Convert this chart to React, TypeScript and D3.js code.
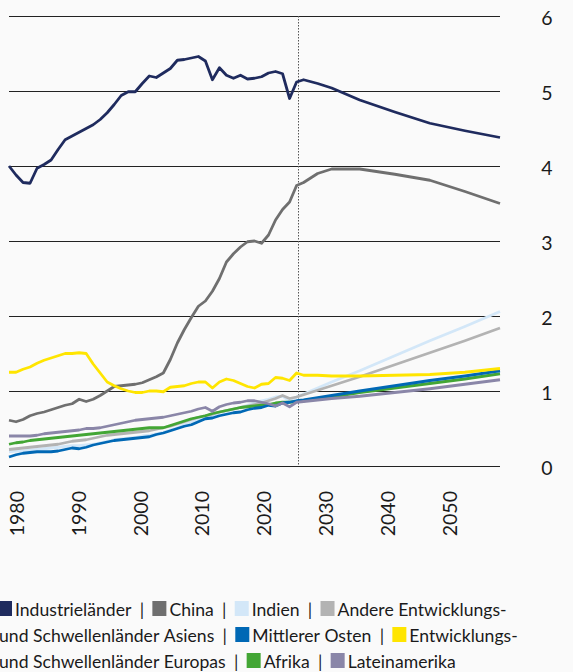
import React, { useRef, useEffect } from 'react';
import * as d3 from 'd3';

// years: history is annual, projections at a few anchor years
const histYears = d3.range(1980, 2022);
const projYears = [2022, 2024, 2026, 2030, 2035, 2040, 2045, 2050];
const tickYears = [1980, 1990, 2000, 2010, 2020, 2030, 2040, 2050];
const yTicks = [0, 1, 2, 3, 4, 5, 6];
const forecastStart = 2021;

const seriesNames = [
  'Industrieländer',
  'China',
  'Indien',
  'Andere Entwicklungs- und Schwellenländer Asiens',
  'Mittlerer Osten',
  'Entwicklungs- und Schwellenländer Europas',
  'Afrika',
  'Lateinamerika',
];
const seriesColors = ['#1f2b5e', '#6f6f6f', '#d3e7f8', '#b3b3b3', '#0068b5', '#ffe500', '#43a635', '#8a86a8'];

const industrieHist = [4.0, 3.88, 3.78, 3.77, 3.97, 4.02, 4.08, 4.22, 4.35, 4.4, 4.45, 4.5, 4.55, 4.62, 4.71, 4.82, 4.94, 4.99, 4.99, 5.1, 5.2, 5.18, 5.24, 5.3, 5.41, 5.42, 5.44, 5.46, 5.4, 5.15, 5.31, 5.21, 5.17, 5.21, 5.16, 5.17, 5.19, 5.24, 5.26, 5.23, 4.9, 5.12];
const industrieProj = [5.15, 5.1, 5.04, 4.88, 4.72, 4.57, 4.47, 4.38];

const chinaHist = [0.61, 0.59, 0.62, 0.67, 0.7, 0.72, 0.75, 0.78, 0.81, 0.83, 0.89, 0.86, 0.89, 0.94, 1.0, 1.06, 1.07, 1.08, 1.09, 1.11, 1.15, 1.19, 1.24, 1.42, 1.64, 1.82, 1.98, 2.13, 2.2, 2.33, 2.5, 2.72, 2.83, 2.92, 2.99, 3.0, 2.97, 3.08, 3.28, 3.42, 3.52, 3.74];
const chinaProj = [3.78, 3.9, 3.96, 3.96, 3.89, 3.81, 3.66, 3.5];

const indienHist = [0.19, 0.2, 0.2, 0.21, 0.22, 0.23, 0.24, 0.25, 0.26, 0.27, 0.27, 0.28, 0.29, 0.31, 0.33, 0.35, 0.36, 0.37, 0.38, 0.4, 0.41, 0.43, 0.45, 0.48, 0.51, 0.55, 0.58, 0.62, 0.64, 0.67, 0.71, 0.73, 0.75, 0.78, 0.81, 0.84, 0.87, 0.89, 0.92, 0.93, 0.86, 0.92];
const indienProj = [0.96, 1.04, 1.12, 1.27, 1.47, 1.67, 1.86, 2.06];

const asienHist = [0.22, 0.23, 0.24, 0.25, 0.26, 0.27, 0.28, 0.29, 0.31, 0.33, 0.34, 0.35, 0.37, 0.39, 0.41, 0.42, 0.43, 0.44, 0.45, 0.46, 0.47, 0.49, 0.51, 0.53, 0.56, 0.59, 0.62, 0.65, 0.67, 0.69, 0.72, 0.74, 0.76, 0.78, 0.8, 0.82, 0.84, 0.87, 0.9, 0.94, 0.9, 0.92];
const asienProj = [0.95, 1.01, 1.07, 1.19, 1.35, 1.51, 1.67, 1.84];

const mittlererOstenHist = [0.12, 0.15, 0.17, 0.18, 0.19, 0.19, 0.19, 0.2, 0.22, 0.24, 0.23, 0.25, 0.28, 0.3, 0.32, 0.34, 0.35, 0.36, 0.37, 0.38, 0.39, 0.42, 0.44, 0.47, 0.5, 0.53, 0.55, 0.59, 0.63, 0.64, 0.67, 0.69, 0.71, 0.72, 0.75, 0.77, 0.78, 0.81, 0.8, 0.84, 0.85, 0.87];
const mittlererOstenProj = [0.88, 0.91, 0.94, 1.0, 1.07, 1.14, 1.2, 1.27];

const europaHist = [1.25, 1.25, 1.29, 1.32, 1.37, 1.41, 1.44, 1.47, 1.5, 1.5, 1.51, 1.5, 1.36, 1.24, 1.12, 1.07, 1.03, 1.0, 0.98, 0.98, 1.0, 1.0, 0.99, 1.05, 1.06, 1.07, 1.1, 1.12, 1.12, 1.04, 1.12, 1.16, 1.14, 1.1, 1.06, 1.04, 1.09, 1.1, 1.18, 1.17, 1.14, 1.24];
const europaProj = [1.21, 1.21, 1.2, 1.2, 1.21, 1.22, 1.25, 1.3];

const afrikaHist = [0.29, 0.31, 0.32, 0.34, 0.35, 0.36, 0.37, 0.38, 0.39, 0.4, 0.41, 0.42, 0.43, 0.44, 0.45, 0.46, 0.47, 0.48, 0.49, 0.5, 0.51, 0.51, 0.51, 0.54, 0.57, 0.6, 0.63, 0.65, 0.67, 0.7, 0.72, 0.74, 0.76, 0.78, 0.79, 0.8, 0.81, 0.82, 0.84, 0.85, 0.85, 0.86];
const afrikaProj = [0.87, 0.9, 0.92, 0.98, 1.04, 1.1, 1.16, 1.23];

const lateinHist = [0.4, 0.4, 0.4, 0.4, 0.41, 0.43, 0.44, 0.45, 0.46, 0.47, 0.48, 0.5, 0.5, 0.51, 0.53, 0.55, 0.57, 0.59, 0.61, 0.62, 0.63, 0.64, 0.65, 0.67, 0.69, 0.71, 0.73, 0.76, 0.78, 0.73, 0.79, 0.82, 0.84, 0.85, 0.87, 0.87, 0.85, 0.83, 0.8, 0.84, 0.79, 0.85];
const lateinProj = [0.86, 0.88, 0.9, 0.93, 0.98, 1.03, 1.09, 1.15];

const histValues = [industrieHist, chinaHist, indienHist, asienHist, mittlererOstenHist, europaHist, afrikaHist, lateinHist];
const projValues = [industrieProj, chinaProj, indienProj, asienProj, mittlererOstenProj, europaProj, afrikaProj, lateinProj];

const W = 573;
const H = 672;
const FONT = 'Lato, "Open Sans", sans-serif';
const TEXT = '#1a1a1a';

function Chart() {
  const ref = useRef<SVGSVGElement>(null);

  useEffect(() => {
    const svg = d3.select(ref.current);
    svg.selectAll('*').remove();

    const x = d3.scaleLinear().domain([1980, 2050]).range([9, 500]);
    const y = d3.scaleLinear().domain([0, 6]).range([466, 16]);
    // the year labels sit on their own, narrower spacing
    const xLabel = d3.scaleLinear().domain([1980, 2050]).range([17, 450]);

    svg.append('rect').attr('width', W).attr('height', H).attr('fill', '#fafafa');

    // grid
    svg.append('g')
      .selectAll('line')
      .data(yTicks)
      .join('line')
      .attr('x1', x(1980))
      .attr('x2', x(2050))
      .attr('y1', (d) => Math.round(y(d)) + 0.5)
      .attr('y2', (d) => Math.round(y(d)) + 0.5)
      .attr('stroke', '#222')
      .attr('stroke-width', 1);

    svg.append('line')
      .attr('x1', Math.round(x(forecastStart)) + 1.5)
      .attr('x2', Math.round(x(forecastStart)) + 1.5)
      .attr('y1', y(6))
      .attr('y2', y(0))
      .attr('stroke', '#555')
      .attr('stroke-width', 1)
      .attr('stroke-dasharray', '1.5,1.5');

    // y labels (right)
    svg.append('g')
      .selectAll('text')
      .data(yTicks)
      .join('text')
      .attr('x', 547)
      .attr('y', (d) => y(d) + 2)
      .attr('dy', '0.35em')
      .attr('text-anchor', 'middle')
      .attr('font-family', FONT)
      .attr('font-size', 19.5)
      .attr('fill', TEXT)
      .text((d) => d);

    // x labels (rotated)
    svg.append('g')
      .selectAll('text')
      .data(tickYears)
      .join('text')
      .attr('transform', (d) => `translate(${xLabel(d)},491) rotate(-90)`)
      .attr('dy', '0.35em')
      .attr('text-anchor', 'end')
      .attr('font-family', FONT)
      .attr('font-size', 19.5)
      .attr('fill', TEXT)
      .text((d) => d);

    // lines
    const line = d3.line<{ year: number; value: number }>()
      .x((d) => x(d.year))
      .y((d) => y(d.value));

    const series = seriesNames.map((name, i) => ({
      name,
      color: seriesColors[i],
      points: [
        ...histYears.map((year, j) => ({ year, value: histValues[i][j] })),
        ...projYears.map((year, j) => ({ year, value: projValues[i][j] })),
      ],
    }));
    const drawOrder = [2, 3, 1, 0, 6, 4, 7, 5];

    svg.append('g')
      .selectAll('path')
      .data(drawOrder.map((i) => series[i]))
      .join('path')
      .attr('d', (d) => line(d.points))
      .attr('fill', 'none')
      .attr('stroke', (d) => d.color)
      .attr('stroke-width', 2.8)
      .attr('stroke-linejoin', 'round');

    // legend, flowing text with wrap
    const leg = svg.append('g').attr('font-family', FONT).attr('font-size', 17.6).attr('fill', TEXT);
    const measure = (s: string) => {
      const t = leg.append('text').text(s);
      const w = (t.node() as SVGTextElement).getComputedTextLength();
      t.remove();
      return w;
    };
    const space = measure('a a') - measure('aa');
    const x0 = -2;
    const maxW = 532;
    const baselines = [616, 642, 668];
    const sw = 14;
    const sepW = 21;
    let cx = x0;
    let row = 0;

    series.forEach((s, i) => {
      if (i > 0) {
        leg.append('text')
          .attr('x', cx + sepW / 2)
          .attr('y', baselines[row])
          .attr('text-anchor', 'middle')
          .text('|');
        cx += sepW;
      }
      s.name.split(' ').forEach((word, j) => {
        const ww = measure(word);
        const lead = j === 0 ? sw + 3 : space;
        if (cx + lead + ww > maxW && row < baselines.length - 1) {
          row += 1;
          cx = x0;
        }
        if (j === 0) {
          leg.append('rect')
            .attr('x', cx)
            .attr('y', baselines[row] - 15)
            .attr('width', sw)
            .attr('height', 15)
            .attr('fill', s.color);
          cx += sw + 3;
        } else if (cx > x0) {
          cx += space;
        } else {
          cx = x0 + 1;
        }
        leg.append('text').attr('x', cx).attr('y', baselines[row]).text(word);
        cx += ww;
      });
    });
  }, []);

  return (
    <svg
      ref={ref}
      width={W}
      height={H}
      style={{ position: 'absolute', left: 0, top: 0, display: 'block' }}
    />
  );
}

export default function App() {
  return <Chart />;
}
